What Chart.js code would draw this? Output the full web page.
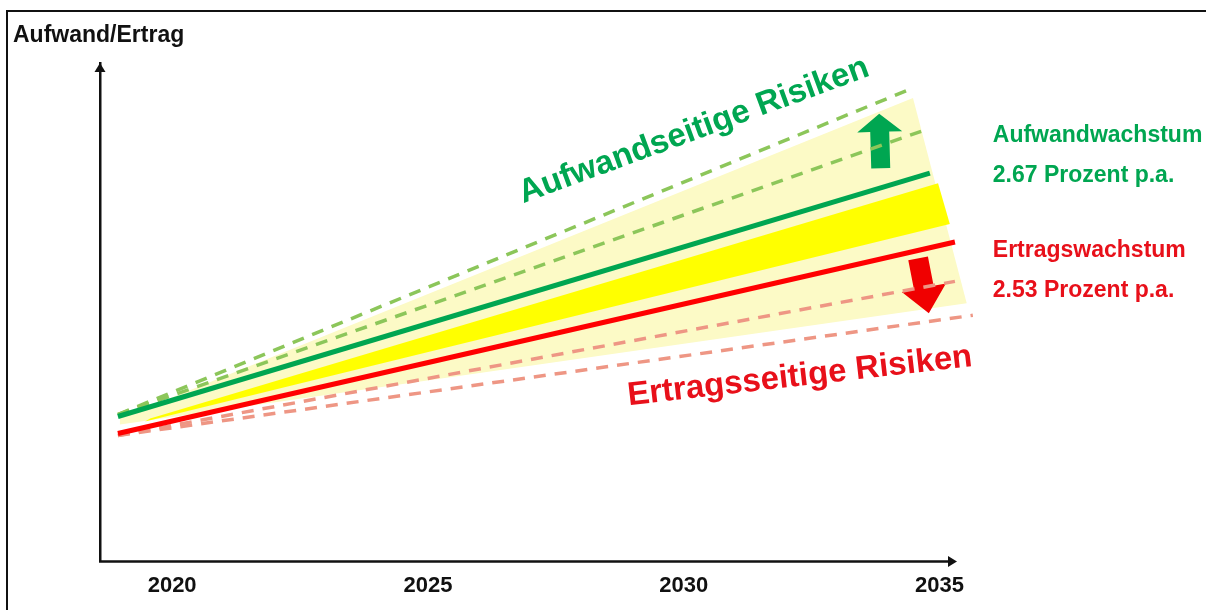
<!DOCTYPE html>
<html lang="de">
<head>
<meta charset="UTF-8">
<title>Aufwand/Ertrag</title>
<script src="https://cdn.jsdelivr.net/npm/chart.js"></script>
<style>
    body { margin: 0; background: #fff; }
    .wrap { position: relative; width: 1206px; height: 610px; overflow: hidden; }
    .frame {
        position: absolute; left: 6px; top: 10px; width: 1300px; height: 700px;
        border-top: 2px solid #111; border-left: 2px solid #111; pointer-events: none;
    }
    canvas { position: absolute; left: 0; top: 0; }
</style>
</head>
<body>
<div class="wrap">
    <canvas id="chart" width="1206" height="610"></canvas>
    <div class="frame"></div>
</div>
<script>
const FONT = '"Liberation Sans", Arial, sans-serif';
const GREEN = '#00A651';
const RED = '#E8101A';

const tickYears = [2020, 2025, 2030, 2035];

// Trendlinien (Jahr, Index)
const aufwandX = [2018.94, 2034.81];
const aufwandY = [29.1, 77.9];
const ertragX = [2018.94, 2035.30];
const ertragY = [25.7, 64.1];

// Risikoszenarien (gestrichelt)
const aufwandHochX = [2018.94, 2034.48];
const aufwandHochY = [29.5, 95.0];
const aufwandMittelX = [2018.94, 2034.64];
const aufwandMittelY = [29.5, 86.3];
const ertragMittelX = [2018.94, 2035.30];
const ertragMittelY = [25.3, 56.2];
const ertragTiefX = [2018.94, 2035.65];
const ertragTiefY = [25.3, 49.4];

// Unsicherheitsfächer und Lücke zwischen Aufwand und Ertrag
const faecherX = [2018.98, 2034.48, 2035.53, 2018.98];
const faecherY = [28.7, 93.0, 51.8, 27.5];
const lueckeX = [2019.57, 2034.97, 2035.20, 2019.47];
const lueckeY = [28.7, 75.9, 67.7, 28.1];

// Beschriftungen rechts
const wachstumTexte = ['Aufwandwachstum', '2.67 Prozent p.a.', 'Ertragswachstum', '2.53 Prozent p.a.'];
const wachstumX = [2036.04, 2036.04, 2036.04, 2036.04];
const wachstumY = [84.1, 76.1, 61.0, 53.0];
const wachstumFarben = [GREEN, GREEN, RED, RED];

// schräge Titel
const risikoTexte = ['Aufwandseitige Risiken', 'Ertragsseitige Risiken'];
const risikoX = [2030.26, 2032.29];
const risikoY = [84.7, 35.3];
const risikoWinkel = [-20.2, -6.5];
const risikoFarben = [GREEN, RED];

// Pfeile: Ende, Spitze
const pfeilVonX = [2033.85, 2034.58];
const pfeilVonY = [78.9, 60.8];
const pfeilNachX = [2033.82, 2034.79];
const pfeilNachY = [89.8, 49.8];
const pfeilFarben = [GREEN, '#F00000'];

const pts = (xs, ys) => xs.map((x, i) => ({ x: x, y: ys[i] }));

function linie(xs, ys, color, width, dash, order) {
    return {
        data: pts(xs, ys), borderColor: color, borderWidth: width, borderDash: dash,
        borderCapStyle: 'butt', pointRadius: 0, fill: false, order: order, clip: false
    };
}

function flaeche(xs, ys, color, order) {
    return {
        data: pts(xs, ys), backgroundColor: color, borderColor: 'transparent', borderWidth: 0,
        pointRadius: 0, fill: 'shape', order: order, clip: false
    };
}

function blockPfeil(ctx, tx, ty, hx, hy, shaft, head, headLen) {
    const len = Math.hypot(hx - tx, hy - ty);
    const ux = (hx - tx) / len, uy = (hy - ty) / len;
    const nx = -uy, ny = ux;
    const bx = hx - ux * headLen, by = hy - uy * headLen;
    ctx.beginPath();
    ctx.moveTo(tx + nx * shaft, ty + ny * shaft);
    ctx.lineTo(bx + nx * shaft, by + ny * shaft);
    ctx.lineTo(bx + nx * head, by + ny * head);
    ctx.lineTo(hx, hy);
    ctx.lineTo(bx - nx * head, by - ny * head);
    ctx.lineTo(bx - nx * shaft, by - ny * shaft);
    ctx.lineTo(tx - nx * shaft, ty - ny * shaft);
    ctx.closePath();
    ctx.fill();
}

const deko = {
    id: 'deko',
    afterDatasetDraw(chart, args) {
        if (args.index !== 1) return;
        const ctx = chart.ctx, xs = chart.scales.x, ys = chart.scales.y;
        ctx.save();
        pfeilFarben.forEach((farbe, i) => {
            ctx.fillStyle = farbe;
            const lang = i === 0 ? 18 : 26;
            blockPfeil(ctx,
                xs.getPixelForValue(pfeilVonX[i]), ys.getPixelForValue(pfeilVonY[i]),
                xs.getPixelForValue(pfeilNachX[i]), ys.getPixelForValue(pfeilNachY[i]),
                i === 0 ? 9.5 : 10, 22.5, lang);
        });
        ctx.restore();
    },
    afterDraw(chart) {
        const ctx = chart.ctx, xs = chart.scales.x, ys = chart.scales.y;
        const a = chart.chartArea;
        ctx.save();
        ctx.fillStyle = '#111';
        ctx.strokeStyle = '#111';
        ctx.lineWidth = 2.5;

        // x-Achse mit Pfeil
        const xEnd = xs.getPixelForValue(2035.34);
        ctx.beginPath();
        ctx.moveTo(a.left - 1, a.bottom);
        ctx.lineTo(xEnd - 6, a.bottom);
        ctx.stroke();
        ctx.beginPath();
        ctx.moveTo(xEnd, a.bottom);
        ctx.lineTo(xEnd - 9, a.bottom - 5.5);
        ctx.lineTo(xEnd - 9, a.bottom + 5.5);
        ctx.closePath();
        ctx.fill();

        // Pfeilspitze y-Achse
        ctx.beginPath();
        ctx.moveTo(a.left, a.top);
        ctx.lineTo(a.left - 5.5, a.top + 9);
        ctx.lineTo(a.left + 5.5, a.top + 9);
        ctx.closePath();
        ctx.fill();

        // Achsentitel
        ctx.font = 'bold 23px ' + FONT;
        ctx.textAlign = 'left';
        ctx.textBaseline = 'alphabetic';
        ctx.fillText('Aufwand/Ertrag', 13, 42);

        // Wachstumsraten
        wachstumTexte.forEach((t, i) => {
            ctx.fillStyle = wachstumFarben[i];
            ctx.fillText(t, xs.getPixelForValue(wachstumX[i]), ys.getPixelForValue(wachstumY[i]));
        });

        // Risikotitel
        ctx.font = 'bold 33px ' + FONT;
        ctx.textAlign = 'center';
        risikoTexte.forEach((t, i) => {
            ctx.save();
            ctx.translate(xs.getPixelForValue(risikoX[i]), ys.getPixelForValue(risikoY[i]));
            ctx.rotate(risikoWinkel[i] * Math.PI / 180);
            ctx.fillStyle = risikoFarben[i];
            ctx.fillText(t, 0, 0);
            ctx.restore();
        });
        ctx.restore();
    }
};

new Chart(document.getElementById('chart'), {
    type: 'line',
    data: {
        datasets: [
            flaeche(faecherX, faecherY, '#FCFAC6', 4),
            flaeche(lueckeX, lueckeY, '#FFFF00', 3),
            linie(aufwandHochX, aufwandHochY, '#8CC65A', 3.5, [12, 9], 2),
            linie(aufwandMittelX, aufwandMittelY, '#8CC65A', 3.5, [12, 9], 2),
            linie(ertragMittelX, ertragMittelY, '#EE9684', 3.5, [12, 9], 2),
            linie(ertragTiefX, ertragTiefY, '#EE9684', 3.5, [12, 9], 2),
            linie(aufwandX, aufwandY, GREEN, 5, [], 1),
            linie(ertragX, ertragY, '#FF0000', 5, [], 1)
        ]
    },
    options: {
        responsive: false,
        animation: false,
        layout: { padding: { left: 100, right: 226, top: 63, bottom: 0 } },
        plugins: { legend: { display: false }, tooltip: { enabled: false } },
        scales: {
            x: {
                type: 'linear',
                min: 2018.59,
                max: 2035.79,
                grid: { display: false, drawTicks: false },
                border: { display: false },
                afterBuildTicks: (scale) => { scale.ticks = tickYears.map(v => ({ value: v })); },
                ticks: {
                    autoSkip: false,
                    maxRotation: 0,
                    padding: 11,
                    color: '#111',
                    font: { family: FONT, size: 22, weight: 'bold' },
                    callback: (v) => String(v)
                }
            },
            y: {
                min: 0,
                max: 100,
                grid: { display: false, drawTicks: false },
                border: { display: true, color: '#111', width: 2.5 },
                ticks: { display: false }
            }
        }
    },
    plugins: [deko]
});
</script>
</body>
</html>
